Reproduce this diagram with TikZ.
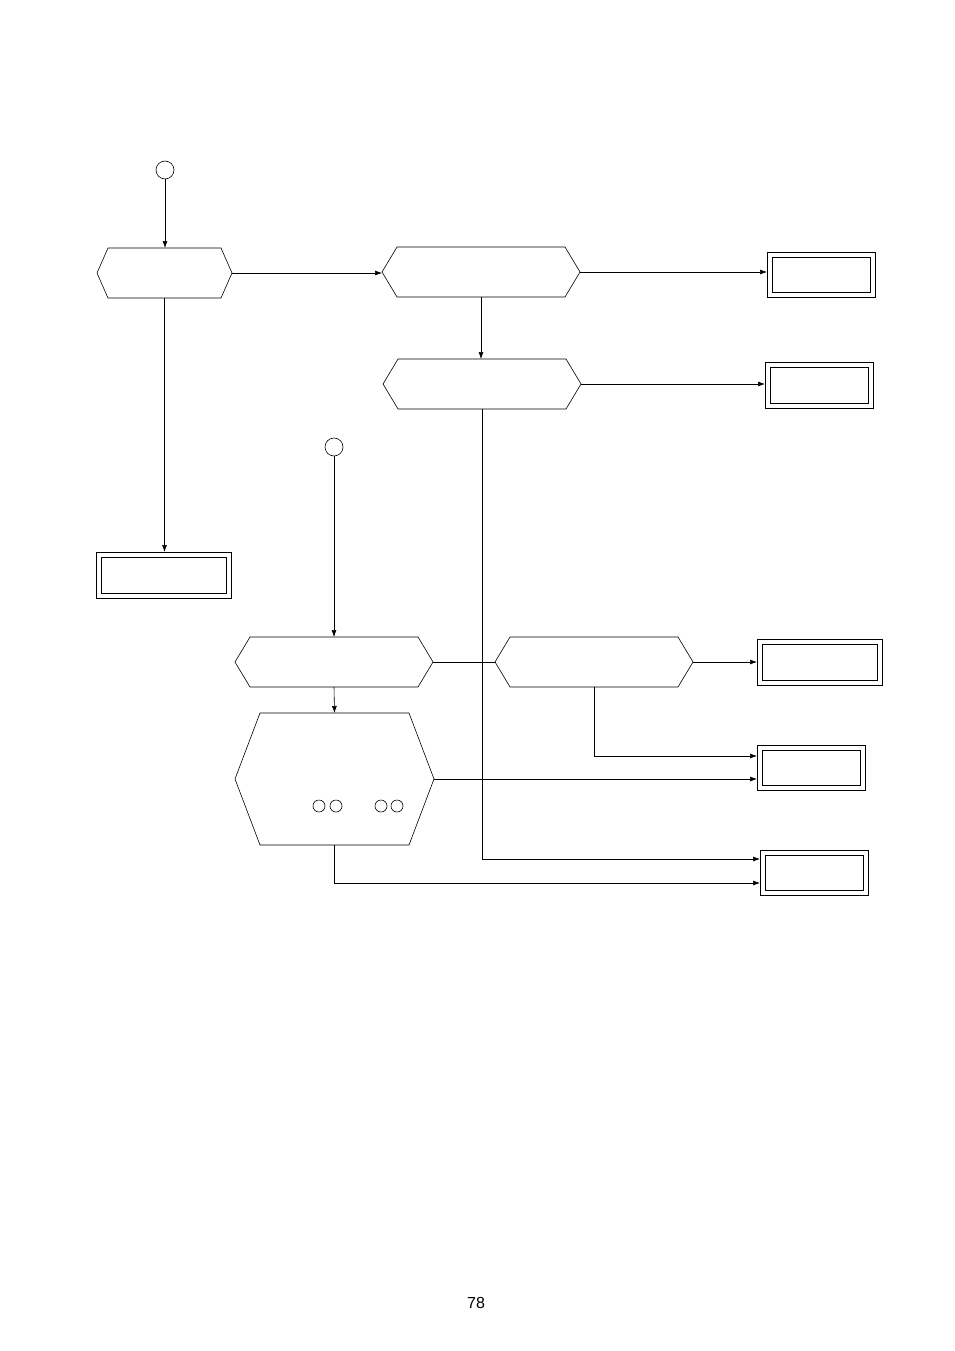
\documentclass[tikz,border=0pt]{standalone}
\usepackage{fontspec}
\setmainfont{Liberation Sans}
\usetikzlibrary{arrows.meta}
\begin{document}
\begin{tikzpicture}[x=1pt,y=-1pt,
  ln/.style={line width=0.6pt},
  arr/.style={ln,-{Latex[length=7pt,width=5pt]}},
  outer/.style={draw,line width=0.9pt},
  inner/.style={draw,line width=0.5pt}]
\useasboundingbox (0,0) rectangle (954,1351);
\newcommand{\hexa}[6]{% name, x1,x2,y1,y2,inset
  \draw[ln] (#2,{(#4+#5)/2}) -- (#2+#6,#4) -- (#3-#6,#4) -- (#3,{(#4+#5)/2}) -- (#3-#6,#5) -- (#2+#6,#5) -- cycle;
  \coordinate (#1) at ({(#2+#3)/2},{(#4+#5)/2});
  \coordinate (#1-n) at ({(#2+#3)/2},#4);
  \coordinate (#1-s) at ({(#2+#3)/2},#5);
  \coordinate (#1-w) at (#2,{(#4+#5)/2});
  \coordinate (#1-e) at (#3,{(#4+#5)/2});}
\newcommand{\dbox}[5]{% name x1 x2 y1 y2
  \draw[outer] (#2,#4) rectangle (#3,#5);
  \draw[inner] (#2+5,#4+5) rectangle (#3-5,#5-5);
  \coordinate (#1-w) at (#2,{(#4+#5)/2});
  \coordinate (#1-n) at ({(#2+#3)/2},#4);}
\node[draw,circle,minimum size=18pt,inner sep=0pt,ln] (ca) at (165,170) {};
\node[draw,circle,minimum size=18pt,inner sep=0pt,ln] (cb) at (334,447) {};
\hexa{h1}{97}{232}{248}{298}{11}
\hexa{h2}{382}{580}{247}{297}{15}
\hexa{h3}{383}{581}{359}{409}{15}
\hexa{h4}{235}{433}{637}{687}{15}
\hexa{h5}{495}{693}{637}{687}{15}
\hexa{h6}{235}{434}{713}{845}{25}
\dbox{b1}{767}{875}{252}{297}
\dbox{b2}{765}{873}{362}{408}
\dbox{b3}{96}{231}{552}{598}
\dbox{b4}{757}{882}{639}{685}
\dbox{b5}{757}{865}{745}{790}
\dbox{b6}{760}{868}{850}{895}
\foreach \x/\n in {319/s1,336/s2,381/s3,397/s4}
  \node[draw,circle,minimum size=12pt,inner sep=0pt,ln] (\n) at (\x,806) {};
\draw[arr] (ca) -- (ca |- h1-n);
\draw[arr] (h1-e) -- (h1-e -| h2-w);
\draw[arr] (h2-e) -- (h2-e -| b1-w);
\draw[arr] (h2-s) -- (h2-s |- h3-n);
\draw[arr] (h3-e) -- (h3-e -| b2-w);
\draw[arr] (h1-s) -- (h1-s |- b3-n);
\draw[arr] (h3-s) |- (760,859);
\draw[arr] (cb) -- (cb |- h4-n);
\draw[ln] (h4-e) -- (h5-w);
\draw[arr] (h5-e) -- (h5-e -| b4-w);
\draw[arr] (h5-s) |- (757,756);
\draw[arr] (h4-s) -- (h6-n);
\draw[arr] (h6-e) -- (h6-e -| b5-w);
\draw[arr] (h6-s) |- (760,883);
\node[font=\fontsize{16}{18}\selectfont] (pg) at (476,1303) {78};
\end{tikzpicture}
\end{document}
